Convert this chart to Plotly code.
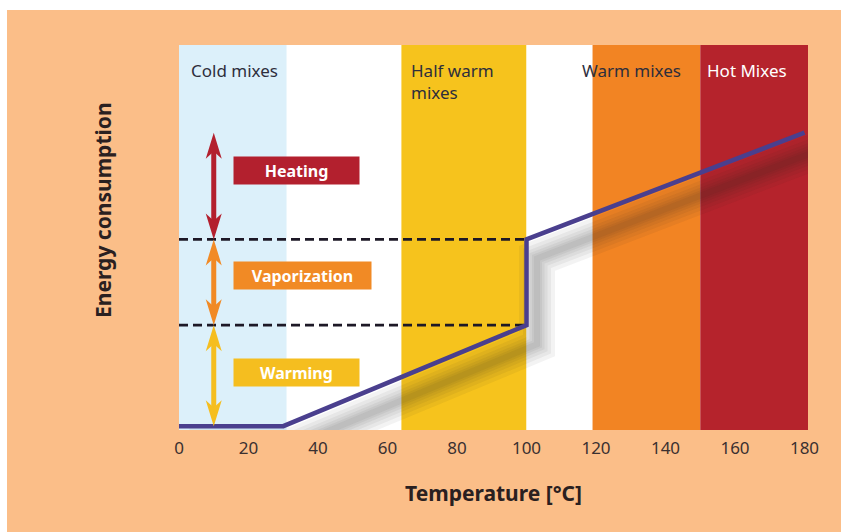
import plotly.graph_objects as go

# Energy needed to produce asphalt mixes as a function of mixing temperature
temperature = [0, 30, 100, 100, 180]
energy = [0, 0, 26.5, 49, 77]

# Temperature zones of the mix types
zone_edges = [0, 31, 64, 100, 119, 150, 181]
zone_colors = ["#dcf0fa", "#ffffff", "#f6c31d", "#ffffff", "#f28423", "#b5232c"]
zone_names = ["Cold mixes", "Half warm<br>mixes", "Warm mixes", "Hot Mixes"]
zone_name_colors = ["#2e2e3c", "#2e2e3c", "#2e2e3c", "#ffffff"]

# Energy phases (bottom/top level taken from the curve)
phase_names = ["Heating", "Vaporization", "Warming"]
phase_low = [energy[3], energy[2], energy[0]]
phase_high = [energy[4], energy[3], energy[2]]
phase_colors = ["#b3202e", "#f18a25", "#f5be1f"]

x_ticks = [0, 20, 40, 60, 80, 100, 120, 140, 160, 180]

X_RANGE = [0, 181]
Y_RANGE = [-1, 100]
W, H = 841, 532
M = dict(l=179, r=33, t=45, b=102)
PW = W - M["l"] - M["r"]
PH = H - M["t"] - M["b"]
ux = (X_RANGE[1] - X_RANGE[0]) / PW  # data units per pixel
uy = (Y_RANGE[1] - Y_RANGE[0]) / PH

FONT = "Noto Sans"
fig = go.Figure()

shapes = []
# white page strips around the peach panel
shapes.append(dict(type="rect", xref="paper", yref="paper", layer="below",
                   x0=-M["l"] / PW, x1=1 + M["r"] / PW,
                   y0=1 + (M["t"] - 10) / PH, y1=1 + M["t"] / PH,
                   fillcolor="white", line_width=0))
shapes.append(dict(type="rect", xref="paper", yref="paper", layer="below",
                   x0=-M["l"] / PW, x1=-(M["l"] - 7) / PW,
                   y0=-M["b"] / PH, y1=1 + M["t"] / PH,
                   fillcolor="white", line_width=0))

# temperature zones
for i, c in enumerate(zone_colors):
    shapes.append(dict(type="rect", xref="x", yref="paper", layer="below",
                       x0=zone_edges[i], x1=zone_edges[i + 1], y0=0, y1=1,
                       fillcolor=c, line_width=0))

# soft drop shadow of the curve
for dw in [36, 28, 21, 15, 10, 6]:
    fig.add_trace(go.Scatter(
        x=[t + 3 for t in temperature], y=[e - 5 for e in energy],
        mode="lines", line=dict(color="rgba(45,30,30,0.055)", width=dw),
        hoverinfo="skip", showlegend=False))

# dashed guide lines at phase boundaries
for lvl in [energy[2], energy[3]]:
    fig.add_trace(go.Scatter(
        x=[0, temperature[2]], y=[lvl, lvl], mode="lines",
        line=dict(color="#1d1826", width=2.6, dash="9px,5px"),
        hoverinfo="skip", showlegend=False))

# energy curve
fig.add_trace(go.Scatter(
    x=temperature, y=energy, mode="lines",
    line=dict(color="#4a3f8e", width=4.5),
    showlegend=False))

# double-headed arrows for each phase
ax = 10
head_len = 26 * uy
head_hw = 8 * ux
for lo, hi, col in zip(phase_low, phase_high, phase_colors):
    shapes.append(dict(type="line", xref="x", yref="y",
                       x0=ax, x1=ax, y0=lo + head_len * 0.7, y1=hi - head_len * 0.7,
                       line=dict(color=col, width=5)))
    top = (f"M {ax},{hi} L {ax - head_hw},{hi - head_len} "
           f"L {ax},{hi - head_len * 0.72} L {ax + head_hw},{hi - head_len} Z")
    bot = (f"M {ax},{lo} L {ax - head_hw},{lo + head_len} "
           f"L {ax},{lo + head_len * 0.72} L {ax + head_hw},{lo + head_len} Z")
    for p in (top, bot):
        shapes.append(dict(type="path", xref="x", yref="y", path=p,
                           fillcolor=col, line_width=0))

annotations = []
# phase labels in coloured boxes
label_y = [67, 39.5, 14]
label_w = [121, 133, 121]
for name, col, y, w in zip(phase_names, phase_colors, label_y, label_w):
    annotations.append(dict(x=15.4, y=y, xref="x", yref="y", xanchor="left",
                            yanchor="middle", text=f"<b>{name}</b>", showarrow=False,
                            bgcolor=col, width=w, height=23, borderpad=2, align="center",
                            font=dict(family=FONT, size=16, color="white")))

# zone titles
zone_x = [3.0, 66.3, 115.5, 151.5]
for name, x, col in zip(zone_names, zone_x, zone_name_colors):
    annotations.append(dict(x=x, y=1 - (57 - M["t"]) / PH, xref="x", yref="paper",
                            xanchor="left", yanchor="top", text=name, showarrow=False,
                            align="left",
                            font=dict(family=FONT, size=17, color=col)))

# vertical axis title
annotations.append(dict(x=-(M["l"] - 103) / PW, y=(H - M["b"] - 210) / PH,
                        xref="paper", yref="paper", xanchor="center", yanchor="middle",
                        text="<b>Energy consumption</b>", textangle=-90, showarrow=False,
                        font=dict(family=FONT, size=21, color="#2a2020")))

fig.update_layout(
    width=W, height=H, margin=M,
    paper_bgcolor="#fbbe88", plot_bgcolor="white",
    shapes=shapes, annotations=annotations,
    font=dict(family=FONT),
    xaxis=dict(range=X_RANGE, tickvals=x_ticks, showgrid=False, zeroline=False,
               showline=False, ticks="", ticklabelstandoff=6,
               tickfont=dict(family=FONT, size=17, color="#3a3030"),
               title=dict(text="<b>Temperature [°C]</b>", standoff=28,
                          font=dict(family=FONT, size=21, color="#2a2020"))),
    yaxis=dict(range=Y_RANGE, showticklabels=False, showgrid=False, zeroline=False,
               showline=False, ticks=""),
)

fig.write_html("out.html")
